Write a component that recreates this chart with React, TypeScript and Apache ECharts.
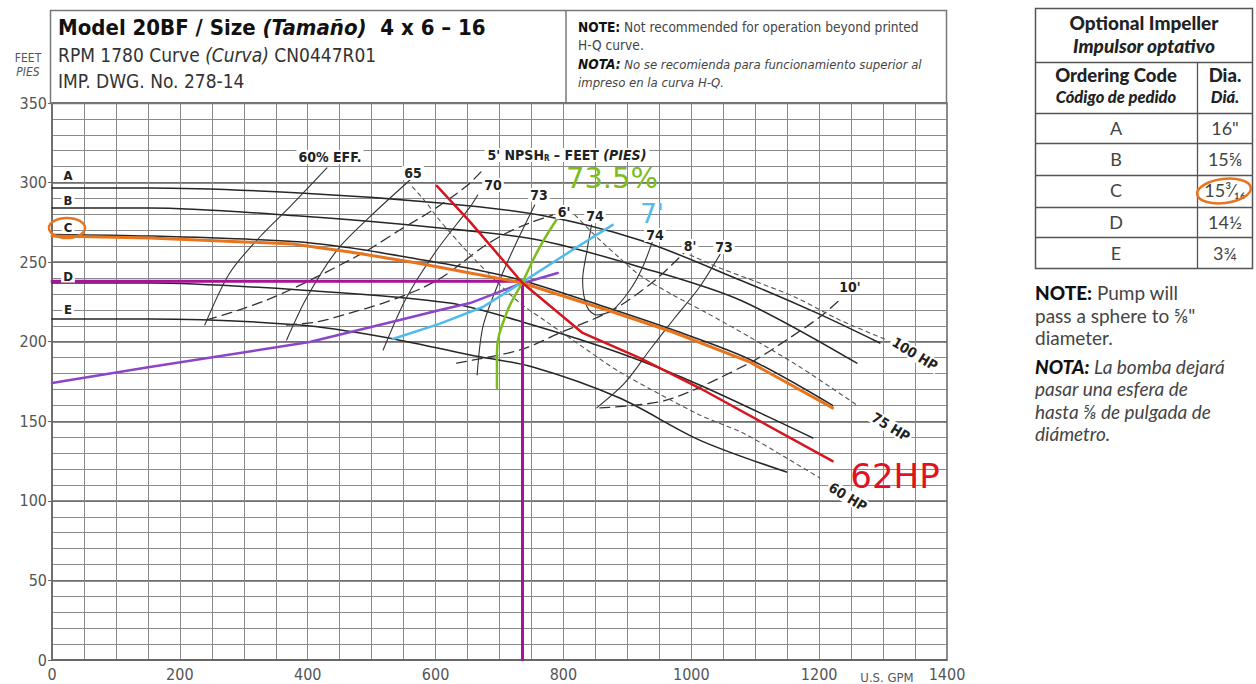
import React, { useEffect, useRef } from "react";
import * as echarts from "echarts";

// ---------- DATA (GPM, feet) ----------
const xTicks = [0, 200, 400, 600, 800, 1000, 1200, 1400];
const yTicks = [0, 50, 100, 150, 200, 250, 300, 350];

// impeller H-Q curves
const impA = [[0, 296.6], [153, 296.6], [388, 293.5], [607, 287.2], [763, 279.6], [919, 263.9], [1076, 238.8], [1196, 218.1], [1295, 199.2]];
const impB = [[0, 284.0], [153, 284.0], [388, 279.0], [607, 271.5], [763, 263.8], [919, 247.0], [1076, 226.2], [1259, 186.5]];
const impC = [[0, 267.4], [153, 266.4], [377, 263.0], [466, 259.0], [571, 252.0], [654, 246.0], [736, 238.5], [868, 221.5], [971, 207.5], [1091, 189.0], [1221, 160.0]];
const impD = [[0, 236.9], [153, 236.9], [388, 232.5], [622, 224.3], [752, 210.5], [888, 192.9], [1013, 172.8], [1190, 139.5]];
const impE = [[0, 214.3], [153, 214.3], [388, 210.5], [518, 203.0], [654, 191.7], [752, 184.1], [888, 164.6], [1013, 138.2], [1149, 118.1]];

// efficiency contours
const eff60 = [[239, 210.5], [278, 243.2], [325, 265.8], [372, 284.7], [430, 309.2]];
const eff65 = [[367, 201.1], [399, 228.1], [446, 257.6], [497, 278.4], [560, 301.6]];
const eff70 = [[518, 194.8], [555, 228.1], [602, 257.6], [654, 284.7], [666, 292.2]];
const eff73L = [[665, 179.1], [674, 209.3], [696, 234.4], [721, 257.6], [755, 285.9]];
const eff74 = [[844, 273.4], [837, 257.6], [830, 238.8], [837, 221.8], [852, 216.8], [877, 219.9], [904, 232.5], [924, 247.0], [940, 263.8]];
const eff73R = [[852, 158.4], [896, 174.1], [935, 194.8], [974, 214.9], [1013, 234.4], [1049, 257.6]];

// NPSHr lines
const npsh5 = [[242, 213.7], [283, 218.7], [336, 226.2], [372, 232.5], [414, 240.7], [466, 251.4], [502, 259.5], [544, 270.2], [596, 282.8], [649, 298.0], [674, 308.0]];
const npsh6 = [[367, 210.5], [414, 212.4], [466, 218.0], [518, 224.3], [572, 232.5], [611, 240.7], [643, 250.1], [674, 259.5], [711, 268.3], [747, 274.6], [783, 279.6]];
const npsh8 = [[633, 186.6], [732, 194.8], [794, 205.5], [877, 219.9], [940, 237.5], [990, 256.4]];
const npsh10 = [[857, 158.4], [962, 163.4], [1091, 186.6], [1149, 201.1], [1201, 215.5], [1232, 226.2]];

// horsepower lines
const hp60 = [[564, 297.2], [586, 287.2], [602, 278.4], [622, 269.0], [643, 259.5], [685, 241.9], [732, 224.3], [774, 212.4], [837, 194.8], [888, 181.0], [1013, 154.0], [1081, 142.6], [1149, 126.9], [1201, 114.4]];
const hp75 = [[818, 279.6], [841, 270.2], [857, 263.9], [888, 252.6], [919, 241.9], [971, 229.4], [1024, 218.1], [1091, 203.0], [1170, 184.1], [1259, 160.2]];
const hp100 = [[998, 254.5], [1045, 246.3], [1107, 236.9], [1165, 227.5], [1232, 213.7], [1306, 201.1]];

// hand-drawn annotations
const dutyPoint = [736, 238];
const orangeC = [[0, 266.4], [153, 265.2], [377, 261.4], [466, 256.4], [571, 249.5], [654, 243.2], [736, 236.9], [868, 219.9], [971, 206.1], [1091, 187.3], [1221, 158.4]];
const redHP = [[602, 297.9], [654, 275.3], [736, 236.9], [830, 205.5], [919, 189.8], [1013, 170.9], [1221, 125.0]];
const greenEff = [[696, 170.9], [696, 192.9], [711, 218.0], [736, 237.5], [763, 259.5], [794, 279.6]];
const cyanNpsh = [[533, 201.7], [607, 211.4], [674, 221.8], [736, 237.5], [814, 257.6], [877, 273.4]];
const purpleSys = [[0, 174.1], [153, 184.1], [403, 199.8], [544, 213.6], [607, 219.9], [654, 224.3], [732, 236.3], [791, 243.2]];

// table
const codes = ["A", "B", "C", "D", "E"];
const dias = ["16\"", "15⅝", "15³⁄₁₆", "14½", "3¾"];

const NARROW = "'Liberation Sans Narrow','DejaVu Sans Condensed',sans-serif";
const TFONT = "Lato,'Open Sans',sans-serif";

function ln(name: string, data: number[][], color: string, width: number, type: any, z: number, smooth: any = 0.3) {
  return {
    type: "line", name, data, smooth, symbol: "none", z, silent: true,
    lineStyle: { color, width, type, cap: "round" },
  };
}

function txt(text: string, x: number, y: number, font: string, fill = "#222", extra: any = {}) {
  return { type: "text", x, y, z: 50, silent: true, style: { text, font, fill, ...extra } };
}

export default function App() {
  const ref = useRef<HTMLDivElement>(null);
  useEffect(() => {
    const chart = echarts.init(ref.current!, null, { renderer: "svg" });
    const black = "#262626";
    const series: any[] = [
      ln("A", impA, black, 1.5, "solid", 3),
      ln("B", impB, black, 1.5, "solid", 3),
      ln("C", impC, black, 1.5, "solid", 3),
      ln("D", impD, black, 1.5, "solid", 3),
      ln("E", impE, black, 1.5, "solid", 3),
      ln("60%", eff60, "#333", 1.1, "solid", 3),
      ln("65", eff65, "#333", 1.1, "solid", 3),
      ln("70", eff70, "#333", 1.1, "solid", 3),
      ln("73L", eff73L, "#333", 1.1, "solid", 3),
      ln("74", eff74, "#333", 1.1, "solid", 3),
      ln("73R", eff73R, "#333", 1.1, "solid", 3),
      ln("5'", npsh5, "#333", 1.3, [10, 6], 3),
      ln("6'", npsh6, "#333", 1.3, [10, 6], 3),
      ln("8'", npsh8, "#333", 1.3, [10, 6], 3),
      ln("10'", npsh10, "#333", 1.3, [10, 6], 3),
      ln("60 HP", hp60, "#555", 1.1, [4, 4], 3),
      ln("75 HP", hp75, "#555", 1.1, [4, 4], 3),
      ln("100 HP", hp100, "#555", 1.1, [4, 4], 3),
      ln("duty", [[0, dutyPoint[1]], dutyPoint, [dutyPoint[0], 0]], "#a3139c", 3, "solid", 10, false),
      ln("system", purpleSys, "#8d45c8", 2.5, "solid", 11, false),
      ln("npsh7", cyanNpsh, "#50bbee", 2.5, "solid", 12, false),
      ln("eff73.5", greenEff, "#7cbd1e", 2.5, "solid", 13, 0.4),
      ln("orangeC", orangeC, "#e8741e", 3, "solid", 14, false),
      ln("hp62", redHP, "#d8141e", 2.5, "solid", 15, false),
    ];

    const whiteBg = { backgroundColor: "#fff", padding: [0, 2] };
    const lab = (t: string, x: number, y: number, size = 14, extra: any = {}) =>
      txt(t, x, y, `bold ${size}px ${NARROW}`, "#222", { align: "center", verticalAlign: "middle", ...whiteBg, ...extra });

    const graphic: any[] = [
      // header boxes
      { type: "rect", shape: { x: 50.5, y: 10.5, width: 896, height: 93 }, style: { fill: "none", stroke: "#777", lineWidth: 1.5 }, z: 40, silent: true },
      { type: "line", shape: { x1: 566, y1: 10, x2: 566, y2: 103 }, style: { stroke: "#777", lineWidth: 1.5 }, z: 40, silent: true },
      {
        type: "text", x: 58, y: 27, z: 50, silent: true,
        style: {
          text: "{b|Model 20BF / Size }{bi|(Tamaño)}{b|  4 x 6 – 16}", verticalAlign: "middle",
          rich: { b: { font: `bold 22px ${NARROW}`, fill: "#111" }, bi: { font: `italic bold 22px ${NARROW}`, fill: "#111" } },
        },
      },
      {
        type: "text", x: 58, y: 55, z: 50, silent: true,
        style: {
          text: "{r|RPM 1780 Curve }{i|(Curva)}{r| CN0447R01}", verticalAlign: "middle",
          rich: { r: { font: `19px ${NARROW}`, fill: "#333" }, i: { font: `italic 19px ${NARROW}`, fill: "#333" } },
        },
      },
      txt("IMP. DWG. No. 278-14", 58, 81, `19px ${NARROW}`, "#333", { verticalAlign: "middle" }),
      {
        type: "text", x: 578, y: 27, z: 50, silent: true,
        style: {
          text: "{b|NOTE:}{r| Not recommended for operation beyond printed}", verticalAlign: "middle",
          rich: { b: { font: `bold 13.6px ${NARROW}`, fill: "#111" }, r: { font: `13.6px ${NARROW}`, fill: "#444" } },
        },
      },
      txt("H-Q curve.", 578, 45, `13.6px ${NARROW}`, "#444", { verticalAlign: "middle" }),
      {
        type: "text", x: 578, y: 64, z: 50, silent: true,
        style: {
          text: "{b|NOTA:}{r| No se recomienda para funcionamiento superior al}", verticalAlign: "middle",
          rich: { b: { font: `italic bold 13.6px ${NARROW}`, fill: "#111" }, r: { font: `italic 13px ${NARROW}`, fill: "#444" } },
        },
      },
      txt("impreso en la curva H-Q.", 578, 82, `italic 13px ${NARROW}`, "#444", { verticalAlign: "middle" }),
      txt("FEET", 28, 58, `12px ${NARROW}`, "#555", { align: "center", verticalAlign: "middle" }),
      txt("PIES", 28, 72, `italic 12px ${NARROW}`, "#555", { align: "center", verticalAlign: "middle" }),
      txt("U.S. GPM", 887, 677, `13px ${NARROW}`, "#555", { align: "center", verticalAlign: "middle" }),

      // impeller letters
      lab("A", 68, 175, 13), lab("B", 68, 200, 13), lab("C", 68, 227, 13), lab("D", 68, 276, 13), lab("E", 68, 309, 13),

      // efficiency / npsh labels
      lab("60% EFF.", 330, 157),
      lab("65", 413, 173),
      lab("70", 493, 185),
      lab("73", 539, 195),
      lab("6'", 564, 212),
      lab("74", 595, 216),
      lab("74", 655, 235),
      lab("8'", 690, 246),
      lab("73", 724, 247),
      lab("10'", 850, 287),
      {
        type: "text", x: 567, y: 155, z: 50, silent: true,
        style: {
          text: "{b|5' NPSH}{s|R}{b| – FEET }{bi|(PIES)}", align: "center", verticalAlign: "middle", backgroundColor: "#fff", padding: [0, 3],
          rich: { b: { font: `bold 14px ${NARROW}`, fill: "#222" }, s: { font: `bold 8px ${NARROW}`, fill: "#222", verticalAlign: "bottom" }, bi: { font: `italic bold 14px ${NARROW}`, fill: "#222" } },
        },
      },
      { ...lab("100 HP", 915, 354), rotation: -0.55 },
      { ...lab("75 HP", 891, 427), rotation: -0.55 },
      { ...lab("60 HP", 848, 497), rotation: -0.55 },

      // hand annotations
      { type: "ellipse", shape: { cx: 67, cy: 228, rx: 18, ry: 10 }, style: { fill: "none", stroke: "#e8741e", lineWidth: 2.5 }, z: 60, silent: true },
      txt("73.5%", 612, 178, `29px 'DejaVu Sans',sans-serif`, "#7cbd1e", { align: "center", verticalAlign: "middle" }),
      txt("7'", 652, 214, `26px 'DejaVu Sans',sans-serif`, "#50bbee", { align: "center", verticalAlign: "middle" }),
      txt("62HP", 895, 476, `34px 'DejaVu Sans',sans-serif`, "#e0141e", { align: "center", verticalAlign: "middle" }),

      // table
      { type: "rect", shape: { x: 1035.5, y: 8.5, width: 217, height: 260 }, style: { fill: "#fff", stroke: "#555", lineWidth: 1.5 }, z: 40, silent: true },
      ...[62, 113, 143, 175, 207, 237].map((y) => ({ type: "line", shape: { x1: 1035, y1: y + 0.5, x2: 1253, y2: y + 0.5 }, style: { stroke: "#555", lineWidth: 1.3 }, z: 41, silent: true })),
      { type: "line", shape: { x1: 1197.5, y1: 62, x2: 1197.5, y2: 268 }, style: { stroke: "#555", lineWidth: 1.3 }, z: 41, silent: true },
      txt("Optional Impeller", 1144, 22, `900 19px ${TFONT}`, "#222", { align: "center", verticalAlign: "middle" }),
      txt("Impulsor optativo", 1144, 45, `italic 900 19px ${TFONT}`, "#222", { align: "center", verticalAlign: "middle" }),
      txt("Ordering Code", 1116, 75, `900 18.5px ${TFONT}`, "#222", { align: "center", verticalAlign: "middle" }),
      txt("Código de pedido", 1116, 97, `italic 900 16.5px ${TFONT}`, "#222", { align: "center", verticalAlign: "middle" }),
      txt("Dia.", 1225, 75, `900 18.5px ${TFONT}`, "#222", { align: "center", verticalAlign: "middle" }),
      txt("Diá.", 1225, 97, `italic 900 16.5px ${TFONT}`, "#222", { align: "center", verticalAlign: "middle" }),
      ...codes.map((c, i) => txt(c, 1116, 128 + i * 31.2, `18px ${TFONT}`, "#444", { align: "center", verticalAlign: "middle" })),
      ...dias.map((d, i) => txt(d, 1225, 128 + i * 31.2, `18px ${TFONT}`, "#444", { align: "center", verticalAlign: "middle" })),
      { type: "ellipse", rotation: 0.12, x: 1224, y: 191, shape: { cx: 0, cy: 0, rx: 27, ry: 12 }, style: { fill: "none", stroke: "#e8741e", lineWidth: 2.5 }, z: 60, silent: true },

      // notes
      {
        type: "text", x: 1035, y: 292, z: 50, silent: true,
        style: { text: "{b|NOTE:}{r| Pump will}", verticalAlign: "middle", rich: { b: { font: `900 19px ${TFONT}`, fill: "#111" }, r: { font: `19px ${TFONT}`, fill: "#444" } } },
      },
      txt("pass a sphere to ⅝\"", 1035, 315, `19px ${TFONT}`, "#444", { verticalAlign: "middle" }),
      txt("diameter.", 1035, 337, `19px ${TFONT}`, "#444", { verticalAlign: "middle" }),
      {
        type: "text", x: 1035, y: 366, z: 50, silent: true,
        style: { text: "{b|NOTA:}{r| La bomba dejará}", verticalAlign: "middle", rich: { b: { font: `italic 900 19px ${TFONT}`, fill: "#111" }, r: { font: `italic 19px ${TFONT}`, fill: "#444" } } },
      },
      txt("pasar una esfera de", 1035, 388, `italic 19px ${TFONT}`, "#444", { verticalAlign: "middle" }),
      txt("hasta ⅝ de pulgada de", 1035, 411, `italic 19px ${TFONT}`, "#444", { verticalAlign: "middle" }),
      txt("diámetro.", 1035, 433, `italic 19px ${TFONT}`, "#444", { verticalAlign: "middle" }),
    ];

    chart.setOption({
      animation: false,
      backgroundColor: "#fff",
      grid: { left: 52, top: 103, width: 895, height: 557, show: true, borderColor: "#666", borderWidth: 1.5, backgroundColor: "transparent" },
      xAxis: [
        {
          type: "value", min: 0, max: 1400, interval: 50,
          axisLine: { show: true, lineStyle: { color: "#666", width: 1.5 } },
          axisTick: { show: false },
          splitLine: { show: true, lineStyle: { color: "#8a8a8a", width: 1 } },
          axisLabel: {
            color: "#555", fontSize: 16, fontFamily: NARROW, margin: 6,
            formatter: (v: number) => (xTicks.includes(v) ? String(v) : ""),
          },
        },
      ],
      yAxis: [
        {
          type: "value", min: 0, max: 350, interval: 10,
          axisLine: { show: true, lineStyle: { color: "#666", width: 1.5 } },
          axisTick: { show: false },
          splitLine: { show: true, lineStyle: { color: "#8a8a8a", width: 1 } },
          axisLabel: {
            color: "#555", fontSize: 16, fontFamily: NARROW, margin: 5,
            formatter: (v: number) => (yTicks.includes(v) ? String(v) : ""),
          },
        },
        {
          type: "value", min: 0, max: 350, interval: 50, position: "left",
          axisLine: { show: false }, axisLabel: { show: false },
          axisTick: { show: true, length: 4, lineStyle: { color: "#666" } },
          splitLine: { show: true, lineStyle: { color: "#666", width: 1.6 } },
        },
      ],
      series,
      graphic,
    });
    return () => chart.dispose();
  }, []);
  return <div ref={ref} style={{ position: "absolute", left: 0, top: 0, width: 1256, height: 684 }} />;
}
